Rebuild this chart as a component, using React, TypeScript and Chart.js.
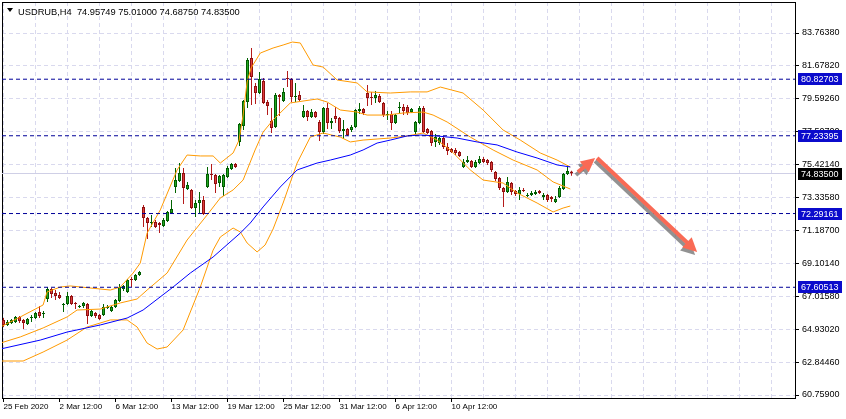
import React, { useEffect, useRef } from "react";
import { Chart, registerables } from "chart.js";

Chart.register(...registerables);

// ---- candle data (USDRUB, H4) ----
const opens = [
  65.53, 65.21, 65.34, 65.40, 65.72, 65.53, 65.27, 65.65, 65.65, 66.03,
  65.91, 66.86, 67.50, 67.24, 67.11, 66.48, 66.54, 67.05, 66.61, 66.35,
  66.42, 66.54, 65.78, 65.97, 65.84, 65.84, 66.29, 66.10, 66.35, 66.73,
  67.50, 67.31, 68.13, 68.07, 68.39, 72.71, 72.01, 71.69, 71.75, 71.69,
  71.50, 71.82, 72.33, 73.98, 74.36, 74.87, 73.85, 73.79, 72.64, 72.96,
  73.15, 73.98, 74.80, 74.74, 74.23, 73.98, 74.61, 75.12, 75.44, 76.84,
  77.85, 79.38, 82.18, 80.40, 79.95, 80.71, 79.38, 78.17, 77.79, 79.82,
  79.44, 80.90, 80.84, 79.70, 79.82, 78.43, 78.81, 78.43, 78.74, 78.11,
  77.47, 79.00, 78.05, 78.49, 78.36, 77.54, 77.66, 77.60, 77.79, 78.81,
  78.93, 79.95, 79.70, 79.63, 79.76, 79.32, 78.55, 78.62, 78.05, 79.00,
  79.06, 79.06, 78.74, 77.47, 78.05, 79.00, 77.66, 77.54, 76.84, 76.77,
  77.09, 76.52, 76.39, 76.33, 76.20, 75.25, 75.57, 75.63, 75.25, 75.50,
  75.76, 75.69, 75.57, 74.93, 74.55, 73.91, 73.66, 74.23, 73.72, 73.53,
  73.79, 73.41, 73.47, 73.53, 73.72, 73.34, 73.47, 73.34, 73.02, 73.34,
  73.85, 74.80, 74.95749,
];
const highs = [
  65.65, 65.53, 65.59, 65.78, 65.78, 65.59, 65.65, 65.84, 66.03, 66.42,
  66.10, 67.62, 67.56, 67.43, 67.31, 66.61, 67.31, 67.11, 66.67, 66.48,
  66.67, 66.61, 66.16, 66.03, 65.91, 66.54, 66.48, 66.42, 66.86, 67.81,
  67.75, 68.13, 68.26, 68.45, 68.64, 72.83, 72.07, 72.20, 71.88, 71.75,
  72.01, 72.45, 73.15, 75.19, 75.50, 75.19, 74.30, 73.85, 73.15, 73.66,
  73.41, 75.25, 75.44, 74.80, 74.74, 74.80, 75.31, 75.50, 75.50, 78.04,
  79.51, 82.18, 82.81, 80.59, 81.29, 80.90, 79.51, 79.00, 79.95, 79.89,
  80.27, 81.35, 80.90, 80.59, 80.08, 79.19, 78.87, 78.93, 78.81, 78.24,
  79.06, 79.32, 78.36, 79.06, 78.43, 78.24, 77.73, 77.92, 78.93, 79.32,
  79.00, 80.46, 80.02, 80.08, 79.89, 79.38, 78.81, 78.81, 78.62, 79.38,
  79.25, 79.19, 79.00, 78.17, 79.13, 79.13, 77.73, 77.60, 77.35, 77.15,
  77.22, 76.77, 76.46, 76.46, 76.27, 75.76, 75.95, 75.69, 75.69, 75.95,
  75.88, 75.76, 75.63, 74.99, 74.61, 73.98, 74.61, 74.30, 73.79, 73.98,
  73.91, 73.60, 73.72, 73.79, 73.79, 73.60, 73.53, 73.41, 73.41, 74.04,
  74.87, 75.38, 75.01,
];
const lows = [
  65.08, 65.15, 65.27, 65.34, 65.34, 64.95, 65.21, 65.40, 65.59, 65.65,
  65.65, 66.67, 66.92, 66.80, 66.86, 66.03, 66.48, 66.48, 66.22, 66.29,
  66.29, 65.27, 65.72, 65.65, 65.53, 65.78, 66.22, 66.03, 66.29, 66.67,
  67.37, 67.24, 67.62, 68.00, 68.32, 71.44, 70.67, 71.44, 71.37, 71.05,
  71.44, 71.75, 72.26, 73.60, 74.30, 72.90, 73.79, 72.58, 72.07, 72.33,
  72.20, 73.91, 74.42, 73.60, 73.98, 73.41, 74.55, 75.06, 75.19, 76.58,
  77.60, 79.00, 79.19, 79.25, 79.89, 79.25, 78.55, 77.41, 77.73, 78.49,
  79.38, 80.33, 79.38, 79.38, 79.44, 78.36, 78.17, 78.36, 78.36, 76.90,
  77.35, 77.66, 77.66, 78.05, 77.41, 77.03, 77.22, 77.47, 77.73, 78.62,
  78.55, 79.13, 79.19, 79.32, 79.32, 78.43, 78.24, 77.60, 77.98, 78.68,
  78.55, 78.55, 78.68, 77.35, 77.98, 77.41, 77.35, 76.58, 76.52, 76.65,
  76.39, 76.01, 76.14, 76.01, 75.88, 75.19, 75.50, 75.19, 75.19, 75.44,
  75.50, 75.38, 74.93, 74.36, 73.79, 72.71, 73.60, 73.47, 73.41, 73.15,
  73.66, 73.34, 73.41, 73.47, 73.53, 73.15, 73.02, 73.02, 72.96, 73.28,
  73.79, 74.74, 74.6875,
];
const closes = [
  65.21, 65.40, 65.53, 65.72, 65.46, 65.34, 65.59, 65.72, 65.97, 65.78,
  65.97, 67.50, 67.18, 67.05, 66.92, 66.54, 67.05, 66.54, 66.54, 66.42,
  66.61, 65.78, 66.10, 65.78, 65.59, 66.35, 66.35, 66.35, 66.80, 67.62,
  67.69, 68.07, 68.07, 68.39, 68.58, 72.01, 71.69, 71.75, 71.44, 71.56,
  71.88, 72.39, 72.58, 74.42, 74.87, 73.91, 74.11, 72.64, 72.96, 73.15,
  72.26, 74.80, 74.74, 74.17, 74.68, 74.74, 75.19, 75.44, 75.25, 77.98,
  79.44, 82.05, 80.97, 79.95, 80.84, 79.32, 79.13, 77.73, 79.82, 79.70,
  80.02, 80.84, 79.70, 79.76, 79.51, 78.81, 78.43, 78.74, 78.43, 77.47,
  79.00, 78.05, 78.17, 78.30, 77.54, 77.66, 77.28, 77.79, 78.87, 78.93,
  78.68, 79.63, 79.63, 79.82, 79.38, 78.55, 78.62, 78.05, 78.55, 79.06,
  78.81, 78.68, 78.93, 78.11, 79.00, 77.47, 77.41, 76.77, 77.15, 77.09,
  76.52, 76.27, 76.20, 76.14, 75.95, 75.57, 75.69, 75.25, 75.57, 75.76,
  75.57, 75.50, 75.06, 74.49, 73.91, 73.66, 74.30, 73.66, 73.53, 73.79,
  73.72, 73.47, 73.60, 73.66, 73.60, 73.47, 73.15, 73.22, 73.22, 73.91,
  74.80, 74.99, 74.835,
];

// ---- Bollinger bands (read at sampled bar positions) ----
const upperIdx = [-0.8, 4.2, 9.9, 10.9, 14.2, 16.7, 26.7, 29.2, 32.4, 34.2, 35.9, 39.2, 43.4, 45.9, 49.2, 52.4, 54.2, 57.4, 58.9, 59.9, 60.9, 61.9, 64.2, 67.4, 69.9, 72.2, 74.2, 77.4, 79.9, 83.4, 88.4, 90.9, 96.7, 101.7, 105.9, 109.2, 114.9, 119.9, 124.9, 129.2, 134.2, 138.4, 141.7];
const upperVal = [65.08, 65.72, 66.48, 67.31, 67.62, 67.69, 67.43, 67.62, 68.51, 69.15, 71.05, 72.52, 75.06, 76.01, 75.95, 75.95, 75.50, 76.14, 76.96, 78.55, 80.65, 81.54, 82.49, 82.81, 83.00, 83.19, 83.13, 81.73, 81.60, 80.78, 80.59, 80.02, 79.95, 80.02, 80.02, 80.33, 79.95, 78.87, 77.60, 76.96, 76.14, 75.69, 75.25];

const middleIdx = [-0.8, 4.2, 9.9, 15.9, 18.4, 24.2, 29.2, 33.4, 35.9, 40.9, 45.9, 50.9, 54.2, 57.4, 59.9, 62.9, 64.9, 67.4, 71.7, 78.4, 80.9, 84.2, 88.4, 90.9, 95.9, 99.9, 104.9, 107.4, 110.9, 116.7, 122.4, 127.4, 133.4, 137.4, 141.7];
const middleVal = [64.06, 64.45, 65.02, 65.72, 66.16, 66.22, 66.61, 66.86, 67.43, 68.51, 70.61, 72.20, 73.28, 73.79, 74.42, 76.33, 77.47, 78.24, 79.32, 79.57, 79.38, 78.87, 78.74, 78.55, 78.55, 78.68, 78.74, 78.55, 78.11, 77.15, 76.33, 75.69, 75.06, 74.30, 73.85];

const lowerIdx = [-0.8, 4.9, 9.9, 15.9, 20.9, 26.7, 30.9, 33.4, 35.9, 38.4, 40.9, 44.9, 49.2, 52.4, 54.2, 57.4, 59.2, 60.9, 63.4, 65.4, 67.4, 69.9, 73.4, 76.7, 79.9, 84.2, 86.7, 89.9, 96.7, 100.9, 104.9, 108.4, 111.7, 116.7, 119.9, 124.9, 128.4, 133.4, 137.4, 139.9, 141.7];
const lowerVal = [62.92, 62.92, 63.49, 64.25, 65.08, 65.53, 65.53, 65.08, 64.06, 63.68, 63.81, 64.89, 67.62, 69.97, 70.80, 71.37, 71.12, 70.42, 69.85, 70.29, 71.31, 72.96, 75.50, 77.15, 77.41, 77.15, 76.84, 76.96, 77.09, 77.22, 77.41, 76.96, 76.33, 75.06, 74.42, 74.23, 73.60, 72.96, 72.39, 72.64, 72.77];

// ---- blue moving average ----
const maIdx = [-0.8, 9.2, 15.9, 24.2, 30.9, 34.9, 42.4, 46.7, 52.4, 59.2, 61.7, 64.9, 69.2, 73.4, 78.4, 81.7, 86.7, 89.9, 93.4, 96.7, 100.9, 104.2, 108.4, 113.4, 118.4, 123.4, 128.4, 133.4, 138.4, 141.7];
const maVal = [63.68, 64.25, 64.76, 65.21, 65.65, 66.16, 67.62, 68.51, 69.53, 71.05, 71.69, 72.71, 73.98, 75.06, 75.50, 75.69, 76.01, 76.33, 76.77, 76.96, 77.22, 77.28, 77.22, 77.09, 76.84, 76.65, 76.20, 75.82, 75.38, 75.25];

// ---- horizontal levels, axis ticks ----
const levels = [80.82703, 77.23395, 72.29161, 67.60513];
const currentPrice = 74.835;
const priceTicks = [83.7638, 81.6782, 79.5926, 77.507, 75.4214, 73.3358, 71.187, 69.1014, 67.0158, 64.9302, 62.8446, 60.759];
const dateLabels = ["25 Feb 2020", "2 Mar 12:00", "6 Mar 12:00", "13 Mar 12:00", "19 Mar 12:00", "25 Mar 12:00", "31 Mar 12:00", "6 Apr 12:00", "10 Apr 12:00"];
const dateLabelIdx = [0, 14, 28, 42, 56, 70, 84, 98, 112];
const gridIdx = [0, 8, 16, 24, 32, 40, 48, 56, 64, 72, 80, 88, 96, 104, 112, 120, 128, 136, 144, 152, 160, 168, 176, 184, 192];

// ---- arrows (bar index, price) ----
const arrowFromIdx = [143.6, 148.4];
const arrowFromPrice = [74.93, 75.82];
const arrowToIdx = [147.9, 173.4];
const arrowToPrice = [75.82, 69.85];

const titleText = "USDRUB,H4  74.95749 75.01000 74.68750 74.83500";

const FONT = "'Liberation Sans', Arial, sans-serif";
const GRID = "#d9d9ee";
const X_MIN = -0.375;
const X_MAX = 197.875;
const Y_MIN = 60.569;
const Y_MAX = 85.734;

function drawArrow(ctx: CanvasRenderingContext2D, x1: number, y1: number, x2: number, y2: number, color: string, headLen: number, headW: number, lw: number) {
  const ang = Math.atan2(y2 - y1, x2 - x1);
  const c = Math.cos(ang);
  const s = Math.sin(ang);
  const bx = x2 - headLen * c;
  const by = y2 - headLen * s;
  ctx.strokeStyle = color;
  ctx.fillStyle = color;
  ctx.lineWidth = lw;
  ctx.lineCap = "butt";
  ctx.beginPath();
  ctx.moveTo(x1, y1);
  ctx.lineTo(bx + c, by + s);
  ctx.stroke();
  ctx.beginPath();
  ctx.moveTo(x2, y2);
  ctx.lineTo(bx + headW * s, by - headW * c);
  ctx.lineTo(bx - headW * s, by + headW * c);
  ctx.closePath();
  ctx.fill();
}

export default function App() {
  const ref = useRef<HTMLCanvasElement | null>(null);

  useEffect(() => {
    document.body.style.margin = "0";
    const canvas = ref.current;
    if (!canvas) return;

    const idx = closes.map((_, i) => i);
    const bull = closes.map((c, i) => c >= opens[i]);
    const bodyFill = bull.map((b) => (b ? "#22a722" : "#e03c3c"));
    const bodyEdge = bull.map((b) => (b ? "#005c00" : "#8e1010"));
    const wickCol = bull.map((b) => (b ? "#006400" : "#b41a1a"));
    const pts = (xs: number[], ys: number[]) => xs.map((x, i) => ({ x, y: ys[i] }));
    const hline = (v: number) => [{ x: X_MIN, y: v }, { x: X_MAX, y: v }];

    const lineBase = { type: "line" as const, xAxisID: "x", yAxisID: "y", pointRadius: 0, borderWidth: 1, tension: 0, fill: false };

    const overlay = {
      id: "overlay",
      afterDatasetsDraw(chart: any) {
        const ctx: CanvasRenderingContext2D = chart.ctx;
        const xs = chart.scales.x;
        const ys = chart.scales.y;
        ctx.save();
        for (let k = 0; k < arrowFromIdx.length; k++) {
          const x1 = xs.getPixelForValue(arrowFromIdx[k]);
          const y1 = ys.getPixelForValue(arrowFromPrice[k]);
          const x2 = xs.getPixelForValue(arrowToIdx[k]);
          const y2 = ys.getPixelForValue(arrowToPrice[k]);
          drawArrow(ctx, x1 - 2, y1 + 3, x2 - 2, y2 + 3, "rgba(110,110,110,0.75)", 14, 7, 4);
        }
        for (let k = 0; k < arrowFromIdx.length; k++) {
          const x1 = xs.getPixelForValue(arrowFromIdx[k]);
          const y1 = ys.getPixelForValue(arrowFromPrice[k]);
          const x2 = xs.getPixelForValue(arrowToIdx[k]);
          const y2 = ys.getPixelForValue(arrowToPrice[k]);
          drawArrow(ctx, x1, y1, x2, y2, "#f96a55", 14, 7, 4);
        }
        ctx.restore();
      },
      afterDraw(chart: any) {
        const ctx: CanvasRenderingContext2D = chart.ctx;
        const ys = chart.scales.y;
        const area = chart.chartArea;
        ctx.save();
        ctx.font = `9px ${FONT}`;
        ctx.textBaseline = "middle";
        ctx.textAlign = "left";
        const box = (v: number, bg: string) => {
          const y = Math.round(ys.getPixelForValue(v));
          ctx.fillStyle = bg;
          ctx.fillRect(area.right + 3, y - 6, 44, 12);
          ctx.fillStyle = "#ffffff";
          ctx.fillText(v.toFixed(5), area.right + 6, y + 0.5);
        };
        levels.forEach((v) => box(v, "#0b0bcc"));
        box(currentPrice, "#000000");

        // title
        ctx.fillStyle = "#000000";
        ctx.beginPath();
        ctx.moveTo(7, 8);
        ctx.lineTo(13, 8);
        ctx.lineTo(10, 12);
        ctx.closePath();
        ctx.fill();
        ctx.font = `9.3px ${FONT}`;
        ctx.textBaseline = "alphabetic";
        ctx.fillText(titleText, 18, 14.5);
        ctx.restore();
      },
    };

    const chart = new Chart(canvas, {
      type: "line",
      data: {
        datasets: [
          {
            ...lineBase,
            label: "price",
            data: hline(currentPrice),
            borderColor: "#cfcfe6",
            order: 10,
          },
          {
            type: "bar",
            label: "wicks",
            xAxisID: "x",
            yAxisID: "y",
            data: idx.map((i) => ({ x: i, y: [lows[i], highs[i]] })) as any,
            backgroundColor: wickCol,
            borderWidth: 0,
            grouped: false,
            maxBarThickness: 1,
            categoryPercentage: 1,
            barPercentage: 1,
            inflateAmount: 0,
            order: 6,
          } as any,
          {
            type: "bar",
            label: "bodies",
            xAxisID: "x",
            yAxisID: "y",
            data: idx.map((i) => ({ x: i, y: [opens[i], closes[i]] })) as any,
            backgroundColor: bodyFill,
            borderColor: bodyEdge,
            borderWidth: 1,
            borderSkipped: false,
            grouped: false,
            maxBarThickness: 3,
            categoryPercentage: 1,
            barPercentage: 1,
            minBarLength: 1,
            inflateAmount: 0,
            order: 5,
          } as any,
          { ...lineBase, label: "upper", data: pts(upperIdx, upperVal), borderColor: "#ff9a00", order: 3 },
          { ...lineBase, label: "middle", data: pts(middleIdx, middleVal), borderColor: "#ff9a00", order: 3 },
          { ...lineBase, label: "lower", data: pts(lowerIdx, lowerVal), borderColor: "#ff9a00", order: 3 },
          { ...lineBase, label: "ma", data: pts(maIdx, maVal), borderColor: "#0000ff", order: 2 },
          ...levels.map((v) => ({
            ...lineBase,
            label: "level " + v,
            data: hline(v),
            borderColor: "#000099",
            borderDash: [4, 3],
            order: 1,
          })),
        ] as any,
      },
      options: {
        responsive: false,
        animation: false,
        devicePixelRatio: 1,
        events: [],
        layout: { padding: { left: 2, top: 2, right: 0, bottom: 0 } },
        plugins: { legend: { display: false }, tooltip: { enabled: false }, title: { display: false } },
        scales: {
          x: {
            type: "linear",
            position: "bottom",
            min: X_MIN,
            max: X_MAX,
            offset: false,
            bounds: "data",
            afterBuildTicks: (ax: any) => {
              ax.ticks = dateLabelIdx.map((v) => ({ value: v }));
            },
            afterFit: (ax: any) => {
              ax.height = 21;
              ax.paddingLeft = 0;
              ax.paddingRight = 0;
            },
            ticks: {
              autoSkip: false,
              maxRotation: 0,
              minRotation: 0,
              align: "start",
              padding: 0,
              color: "#000000",
              font: { family: FONT, size: 8 },
              callback: (_v: any, i: number) => dateLabels[i],
            },
            grid: { display: true, drawOnChartArea: false, drawTicks: true, tickLength: 4, tickColor: "#000000", offset: false },
            border: { display: true, color: "#000000", width: 1 },
          },
          xg: {
            type: "linear",
            position: "bottom",
            min: X_MIN,
            max: X_MAX,
            offset: false,
            bounds: "data",
            afterBuildTicks: (ax: any) => {
              ax.ticks = gridIdx.map((v) => ({ value: v }));
            },
            afterFit: (ax: any) => {
              ax.height = 0;
              ax.paddingLeft = 0;
              ax.paddingRight = 0;
            },
            ticks: { display: false },
            grid: { display: true, color: GRID, drawTicks: false, offset: false },
            border: { display: false, dash: [4, 3] },
          },
          xt: {
            type: "linear",
            position: "top",
            min: 0,
            max: 1,
            afterFit: (ax: any) => {
              ax.height = 0;
            },
            ticks: { display: false },
            grid: { display: false },
            border: { display: true, color: "#000000" },
          },
          yl: {
            type: "linear",
            position: "left",
            min: 0,
            max: 1,
            afterFit: (ax: any) => {
              ax.width = 0;
            },
            ticks: { display: false },
            grid: { display: false },
            border: { display: true, color: "#000000" },
          },
          y: {
            type: "linear",
            position: "right",
            min: Y_MIN,
            max: Y_MAX,
            bounds: "data",
            afterBuildTicks: (ax: any) => {
              ax.ticks = priceTicks.map((v) => ({ value: v }));
            },
            afterFit: (ax: any) => {
              ax.width = 51;
              ax.paddingTop = 0;
              ax.paddingBottom = 0;
            },
            ticks: {
              autoSkip: false,
              padding: 3,
              color: "#000000",
              font: { family: FONT, size: 9 },
              callback: (v: any) => Number(v).toFixed(5),
            },
            grid: { display: true, color: GRID, drawTicks: true, tickLength: 4, tickColor: "#000000" },
            border: { display: true, color: "#000000", width: 1, dash: [4, 3] },
          },
        } as any,
      },
      plugins: [overlay],
    });

    return () => chart.destroy();
  }, []);

  return (
    <div style={{ width: 846, height: 419, background: "#ffffff" }}>
      <canvas ref={ref} width={846} height={419} style={{ display: "block" }} />
    </div>
  );
}
